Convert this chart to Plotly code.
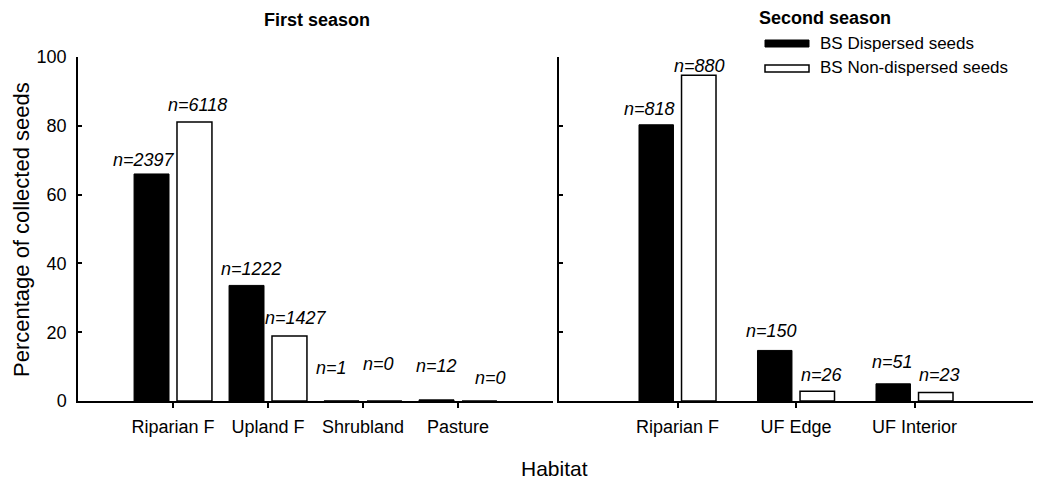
import plotly.graph_objects as go

# ---------------- data ----------------
s1_categories = ["Riparian F", "Upland F", "Shrubland", "Pasture"]
s1_dispersed = [66.0, 33.6, 0.03, 0.33]
s1_nondispersed = [81.1, 18.9, 0.0, 0.0]
s1_dispersed_n = [2397, 1222, 1, 12]
s1_nondispersed_n = [6118, 1427, 0, 0]

s2_categories = ["Riparian F", "UF Edge", "UF Interior"]
s2_dispersed = [80.3, 14.7, 5.0]
s2_nondispersed = [94.7, 2.8, 2.5]
s2_dispersed_n = [818, 150, 51]
s2_nondispersed_n = [880, 26, 23]

y_ticks = [0, 20, 40, 60, 80, 100]

# ---------------- layout constants (pixels) ----------------
W, H = 1044, 487
ML, MR, MT, MB = 78, 11, 57, 86
PW = W - ML - MR
PH = H - MT - MB


def px(xp):
    return (xp - ML) / PW


def py(yp):
    return (H - MB - yp) / PH


FONT = "Liberation Sans, Arial, sans-serif"

# bar geometry in category units per panel
L_W, L_OFF_D, L_OFF_N = 0.368, -0.41, 0.042
R_W, R_OFF_D, R_OFF_N = 0.291, -0.325, 0.034

fig = go.Figure()

fig.add_trace(go.Bar(x=s1_categories, y=s1_dispersed, xaxis="x", yaxis="y",
                     width=L_W, offset=L_OFF_D,
                     marker=dict(color="black", line=dict(color="black", width=1)),
                     showlegend=False, name="BS Dispersed seeds"))
fig.add_trace(go.Bar(x=s1_categories, y=s1_nondispersed, xaxis="x", yaxis="y",
                     width=L_W, offset=L_OFF_N,
                     marker=dict(color="white", line=dict(color="black", width=1.5)),
                     showlegend=False, name="BS Non-dispersed seeds"))
fig.add_trace(go.Bar(x=s2_categories, y=s2_dispersed, xaxis="x2", yaxis="y2",
                     width=R_W, offset=R_OFF_D,
                     marker=dict(color="black", line=dict(color="black", width=1)),
                     showlegend=False, name="BS Dispersed seeds"))
fig.add_trace(go.Bar(x=s2_categories, y=s2_nondispersed, xaxis="x2", yaxis="y2",
                     width=R_W, offset=R_OFF_N,
                     marker=dict(color="white", line=dict(color="black", width=1.5)),
                     showlegend=False, name="BS Non-dispersed seeds"))

# label offsets (style): (xshift, yshift) in px, centre of label above bar top
s1_d_shift = [(-8, 14), (5, 16), (-10, 33), (0, 34)]
s1_n_shift = [(3, 17), (7, 18), (-6, 37), (11, 23)]
s2_d_shift = [(-7, 16), (-3, 19), (-1, 22)]
s2_n_shift = [(1, 9), (5, 16), (4, 17)]

annotations = []


def add_labels(vals, ns, shifts, centre, xref, yref):
    for i, (v, n, (dx, dy)) in enumerate(zip(vals, ns, shifts)):
        annotations.append(dict(
            x=i + centre, y=v, xref=xref, yref=yref,
            text=f"<i>n={n}</i>", showarrow=False,
            xanchor="center", yanchor="middle", xshift=dx, yshift=dy,
            font=dict(family=FONT, size=18, color="black")))


add_labels(s1_dispersed, s1_dispersed_n, s1_d_shift, L_OFF_D + L_W / 2, "x", "y")
add_labels(s1_nondispersed, s1_nondispersed_n, s1_n_shift, L_OFF_N + L_W / 2, "x", "y")
add_labels(s2_dispersed, s2_dispersed_n, s2_d_shift, R_OFF_D + R_W / 2, "x2", "y2")
add_labels(s2_nondispersed, s2_nondispersed_n, s2_n_shift, R_OFF_N + R_W / 2, "x2", "y2")

# titles
annotations += [
    dict(x=px(317), y=py(20), xref="paper", yref="paper", text="<b>First season</b>",
         showarrow=False, xanchor="center", yanchor="middle",
         font=dict(family=FONT, size=18, color="black")),
    dict(x=px(825), y=py(18), xref="paper", yref="paper", text="<b>Second season</b>",
         showarrow=False, xanchor="center", yanchor="middle",
         font=dict(family=FONT, size=18, color="black")),
    dict(x=px(554), y=py(469), xref="paper", yref="paper", text="Habitat",
         showarrow=False, xanchor="center", yanchor="middle",
         font=dict(family=FONT, size=21, color="black")),
    dict(x=px(21), y=py(230), xref="paper", yref="paper",
         text="Percentage of collected seeds", textangle=-90,
         showarrow=False, xanchor="center", yanchor="middle",
         font=dict(family=FONT, size=22, color="black")),
    # legend text
    dict(x=px(818), y=py(43.5), xref="paper", yref="paper", text="BS Dispersed seeds",
         showarrow=False, xanchor="left", yanchor="middle",
         font=dict(family=FONT, size=17, color="black")),
    dict(x=px(818), y=py(68), xref="paper", yref="paper", text="BS Non-dispersed seeds",
         showarrow=False, xanchor="left", yanchor="middle",
         font=dict(family=FONT, size=17, color="black")),
]

shapes = [
    dict(type="rect", xref="paper", yref="paper",
         x0=px(765), x1=px(809), y0=py(47), y1=py(40),
         fillcolor="black", line=dict(color="black", width=1)),
    dict(type="rect", xref="paper", yref="paper",
         x0=px(765), x1=px(809), y0=py(72), y1=py(65),
         fillcolor="white", line=dict(color="black", width=1.5)),
]

axis_common = dict(showgrid=False, zeroline=False, showline=True,
                   linecolor="black", linewidth=1.5,
                   tickfont=dict(family=FONT, size=18, color="black"))

fig.update_layout(
    width=W, height=H,
    margin=dict(l=ML, r=MR, t=MT, b=MB, pad=0),
    paper_bgcolor="white", plot_bgcolor="white",
    showlegend=False,
    xaxis=dict(domain=[0, px(553)], type="category", range=[-1, 4],
               ticks="outside", ticklen=5, tickcolor="black", tickwidth=1.5,
               ticklabelstandoff=4, anchor="y", **axis_common),
    yaxis=dict(domain=[0, 1], range=[0, 100], tickvals=y_ticks,
               ticks="inside", ticklen=4, tickcolor="black", tickwidth=1.5,
               ticklabelstandoff=6, anchor="x", **axis_common),
    xaxis2=dict(domain=[px(559), 1], type="category", range=[-1, 3],
                ticks="outside", ticklen=5, tickcolor="black", tickwidth=1.5,
                ticklabelstandoff=4, anchor="y2", **axis_common),
    yaxis2=dict(domain=[0, 1], range=[0, 100], tickvals=y_ticks,
                ticks="inside", ticklen=4, tickcolor="black", tickwidth=1.5,
                showticklabels=False, anchor="x2", **axis_common),
    annotations=annotations,
    shapes=shapes,
)

fig.write_html("out.html")
